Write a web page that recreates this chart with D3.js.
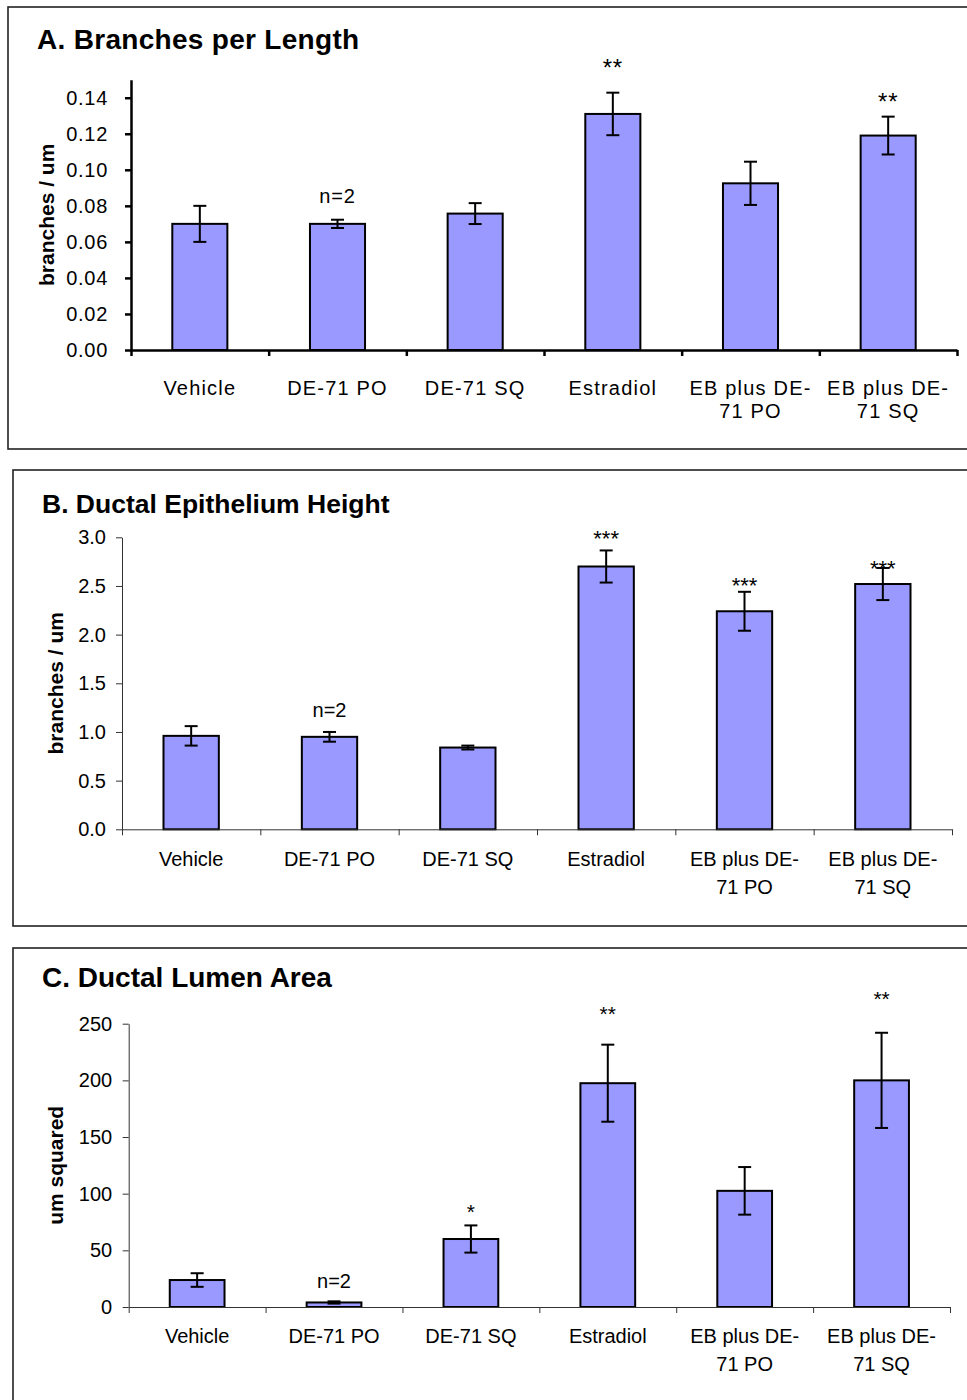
<!DOCTYPE html>
<html>
<head>
<meta charset="utf-8">
<script src="https://cdn.jsdelivr.net/npm/d3@7"></script>
<style>
  html, body { margin: 0; padding: 0; background: #fff; }
  svg { display: block; }
  text { font-family: "Liberation Sans", Arial, sans-serif; fill: #000; }
</style>
</head>
<body>
<svg id="chart" width="967" height="1400"></svg>
<script>
// Treatment groups, shared by all three panels
const categories = ["Vehicle", "DE-71 PO", "DE-71 SQ", "Estradiol", "EB plus DE-71 PO", "EB plus DE-71 SQ"];
const categoryLines = [["Vehicle"], ["DE-71 PO"], ["DE-71 SQ"], ["Estradiol"], ["EB plus DE-", "71 PO"], ["EB plus DE-", "71 SQ"]];

// A. Branches per length (mean, error)
const branchesMean = [0.070, 0.070, 0.0757, 0.131, 0.0925, 0.119];
const branchesErr  = [0.010, 0.0023, 0.0058, 0.0118, 0.012, 0.0105];
const branchesNote = ["", "n=2", "", "**", "", "**"];
const branchesNoteAt = [null, 0.0814, null, 0.152, null, 0.133];
const branchesTicks = [0, 0.02, 0.04, 0.06, 0.08, 0.10, 0.12, 0.14];

// B. Ductal epithelium height (mean, error)
const heightMean = [0.96, 0.95, 0.84, 2.70, 2.24, 2.52];
const heightErr  = [0.10, 0.05, 0.02, 0.165, 0.20, 0.165];
const heightNote = ["", "n=2", "", "***", "***", "***"];
const heightNoteAt = [null, 1.157, null, 2.91, 2.43, 2.60];
const heightTicks = [0, 0.5, 1.0, 1.5, 2.0, 2.5, 3.0];

// C. Ductal lumen area (mean, error)
const areaMean = [23.8, 4, 60, 197.5, 102.5, 200];
const areaErr  = [6, 1, 12, 34, 21, 42];
const areaNote = ["", "n=2", "*", "**", "", "**"];
const areaNoteAt = [null, 17, 77.5, 252, null, 266];
const areaTicks = [0, 50, 100, 150, 200, 250];

const svg = d3.select("#chart");

const panels = [
  {
    title: "A. Branches per Length", yLabel: "branches / um",
    mean: branchesMean, err: branchesErr, note: branchesNote, noteAt: branchesNoteAt,
    ticks: branchesTicks, fmt: d3.format(".2f"), yMax: 0.15,
    frame: [8, 7, 1000, 442], titleX: 37, titleY: 49, titleSize: 28,
    x0: 131, x1: 957, yBase: 350, yTop: 79.7,
    axisWidth: 2.5, axisColor: "#000", spacing: 1.2, tickPad: 17,
    labelDy: [45, 68], yLabelX: 54, noteSize: 24
  },
  {
    title: "B. Ductal Epithelium Height", yLabel: "branches / um",
    mean: heightMean, err: heightErr, note: heightNote, noteAt: heightNoteAt,
    ticks: heightTicks, fmt: d3.format(".1f"), yMax: 3.0,
    frame: [13, 470, 1000, 456], titleX: 42, titleY: 513, titleSize: 26.5,
    x0: 122, x1: 952, yBase: 829.3, yTop: 537.3,
    axisWidth: 1, axisColor: "#333", spacing: 0, tickPad: 10,
    labelDy: [37, 65], yLabelX: 63, noteSize: 22
  },
  {
    title: "C. Ductal Lumen Area", yLabel: "um squared",
    mean: areaMean, err: areaErr, note: areaNote, noteAt: areaNoteAt,
    ticks: areaTicks, fmt: d3.format("d"), yMax: 250,
    frame: [13, 948, 1000, 500], titleX: 42, titleY: 987, titleSize: 28,
    x0: 128.7, x1: 950, yBase: 1307, yTop: 1023.7,
    axisWidth: 1, axisColor: "#333", spacing: 0, tickPad: 10.5,
    labelDy: [36, 64], yLabelX: 63, noteSize: 21
  }
];

panels.forEach(p => {
  const g = svg.append("g");

  // frame around the panel
  g.append("rect")
    .attr("x", p.frame[0]).attr("y", p.frame[1])
    .attr("width", p.frame[2]).attr("height", p.frame[3])
    .attr("fill", "none").attr("stroke", "#222").attr("stroke-width", 1.6);

  // title
  g.append("text")
    .attr("x", p.titleX).attr("y", p.titleY)
    .attr("font-size", p.titleSize).attr("font-weight", "bold")
    .attr("letter-spacing", p.spacing ? 0.3 : 0)
    .text(p.title);

  const x = d3.scaleBand().domain(categories).range([p.x0, p.x1])
    .paddingInner(0.6).paddingOuter(0.3);
  const xSlots = d3.scaleLinear().domain([0, categories.length]).range([p.x0, p.x1]);
  const y = d3.scaleLinear().domain([0, p.yMax]).range([p.yBase, p.yTop]);
  const cx = d => x(d) + x.bandwidth() / 2;

  // bars
  g.selectAll("rect.bar").data(categories).join("rect")
    .attr("class", "bar")
    .attr("x", d => x(d))
    .attr("width", x.bandwidth())
    .attr("y", (d, i) => y(p.mean[i]))
    .attr("height", (d, i) => y(0) - y(p.mean[i]))
    .attr("fill", "#9999ff")
    .attr("stroke", "#000").attr("stroke-width", 2);

  // error bars
  const cap = 6.5;
  const eb = g.selectAll("g.err").data(categories).join("g").attr("class", "err")
    .attr("stroke", "#000").attr("stroke-width", 2);
  eb.append("line")
    .attr("x1", cx).attr("x2", cx)
    .attr("y1", (d, i) => y(p.mean[i] + p.err[i]))
    .attr("y2", (d, i) => y(p.mean[i] - p.err[i]));
  eb.append("line")
    .attr("x1", d => cx(d) - cap).attr("x2", d => cx(d) + cap)
    .attr("y1", (d, i) => y(p.mean[i] + p.err[i])).attr("y2", (d, i) => y(p.mean[i] + p.err[i]));
  eb.append("line")
    .attr("x1", d => cx(d) - cap).attr("x2", d => cx(d) + cap)
    .attr("y1", (d, i) => y(p.mean[i] - p.err[i])).attr("y2", (d, i) => y(p.mean[i] - p.err[i]));

  // y axis
  const yAxis = g.append("g")
    .attr("transform", `translate(${p.x0},0)`)
    .call(d3.axisLeft(y).tickValues(p.ticks).tickFormat(p.fmt).tickSize(6).tickSizeOuter(0).tickPadding(p.tickPad));
  yAxis.select(".domain").attr("stroke", p.axisColor).attr("stroke-width", p.axisWidth);
  yAxis.selectAll(".tick line").attr("stroke", p.axisColor).attr("stroke-width", p.axisWidth);
  yAxis.selectAll(".tick text")
    .attr("font-size", 20).attr("fill", "#000")
    .attr("letter-spacing", p.spacing ? 0.7 : 0)
    .style("font-family", "'Liberation Sans', Arial, sans-serif");

  // x axis with ticks between the groups
  const xAxis = g.append("g")
    .attr("transform", `translate(0,${p.yBase})`)
    .call(d3.axisBottom(xSlots).tickValues(d3.range(0, categories.length + 1))
      .tickFormat("").tickSize(6).tickSizeOuter(0));
  xAxis.select(".domain").attr("stroke", p.axisColor).attr("stroke-width", p.axisWidth);
  xAxis.selectAll(".tick line").attr("stroke", p.axisColor).attr("stroke-width", p.axisWidth);

  // category labels
  categories.forEach((c, i) => {
    const t = g.append("text")
      .attr("text-anchor", "middle")
      .attr("font-size", 20)
      .attr("letter-spacing", p.spacing ? p.spacing : 0);
    categoryLines[i].forEach((line, k) => {
      t.append("tspan")
        .attr("x", cx(c))
        .attr("y", p.yBase + p.labelDy[k])
        .text(line);
    });
  });

  // significance / sample size notes
  categories.forEach((c, i) => {
    if (!p.note[i]) return;
    const isN = p.note[i].startsWith("n");
    g.append("text")
      .attr("x", cx(c))
      .attr("y", y(p.noteAt[i]))
      .attr("text-anchor", "middle")
      .attr("font-size", isN ? 20 : p.noteSize)
      .attr("letter-spacing", p.spacing ? 0.8 : 0)
      .text(p.note[i]);
  });

  // y axis title
  g.append("text")
    .attr("transform", `translate(${p.yLabelX},${(p.yBase + p.yTop) / 2}) rotate(-90)`)
    .attr("text-anchor", "middle")
    .attr("font-size", 21).attr("font-weight", "bold")
    .text(p.yLabel);
});
</script>
</body>
</html>
